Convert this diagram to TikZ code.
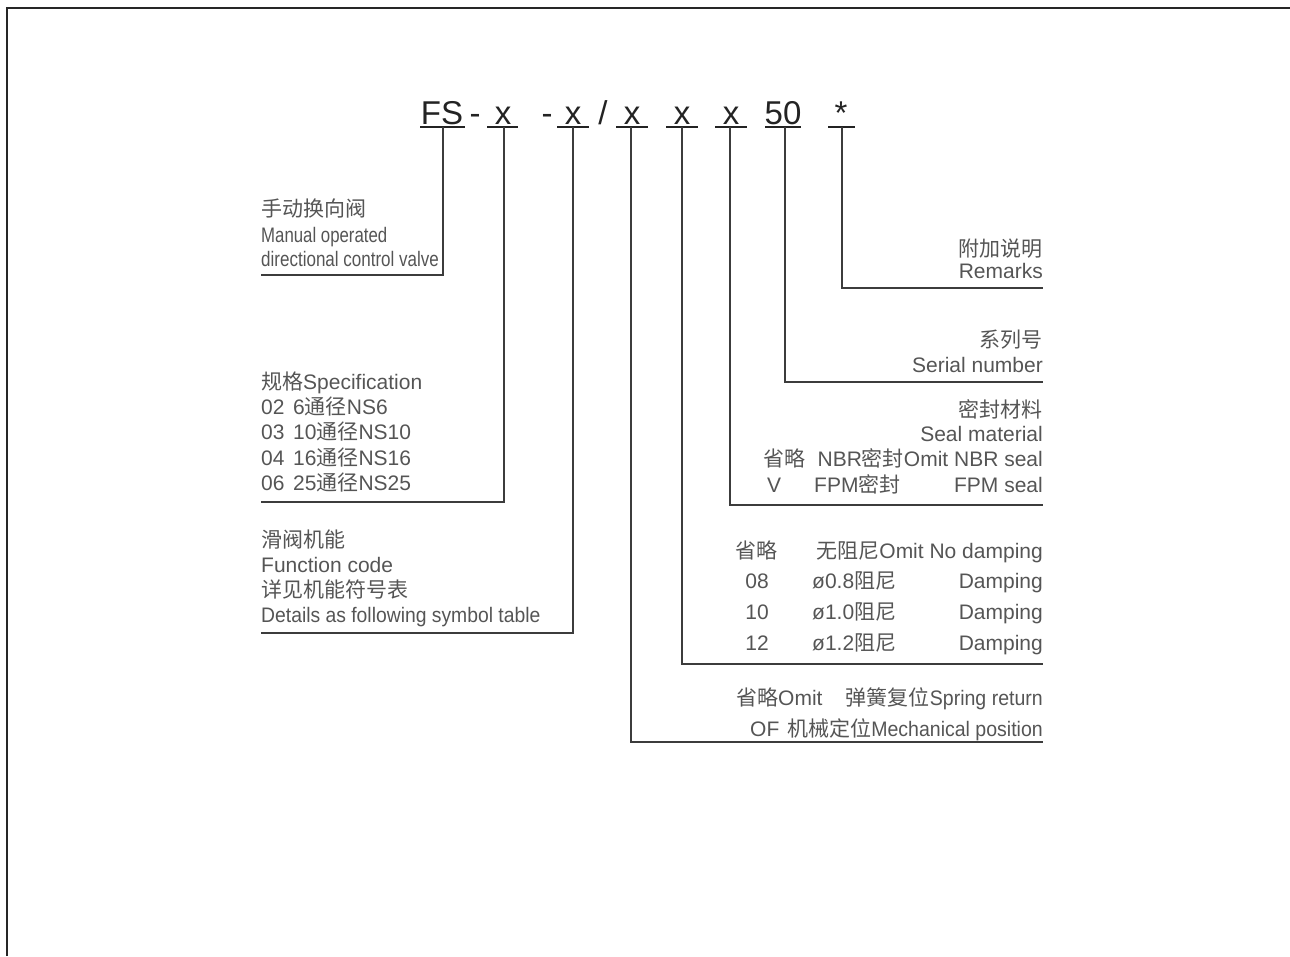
\documentclass[tikz,border=0pt]{standalone}
\usepackage{fontspec}
\setmainfont{Liberation Sans}
\newfontfamily\cjkf{Noto Sans CJK SC}
\newcommand\cj[1]{{\cjkf #1}}
\newcommand\cond[2]{\scalebox{#1}[1]{#2}}
\definecolor{txt}{RGB}{85,85,85}
\definecolor{ln}{RGB}{60,60,60}
\definecolor{hdrc}{RGB}{35,35,35}
\begin{document}
\begin{tikzpicture}[x=1pt,y=-1pt,
  lbl/.style={inner sep=0pt, text=txt, font=\fontsize{21}{24}\selectfont},
  lw/.style={lbl, anchor=base west},
  le/.style={lbl, anchor=base east},
  lc/.style={lbl, anchor=base},
  hdr/.style={inner sep=0pt, anchor=base, text=hdrc, font=\fontsize{33}{36}\selectfont},
  conn/.style={draw=ln, line width=1.3pt},
  uline/.style={draw=hdrc, line width=2.6pt},
  framel/.style={draw=black!85, line width=2.2pt}]
\useasboundingbox (0,0) rectangle (1290,956);
% frame
\coordinate (fa) at (7,956);
\coordinate (fb) at (7,8);
\coordinate (fc) at (1290,8);
\draw[framel] (fa) -- (fb) -- (fc);

% header
\node[hdr] (hFS) at (442,124) {FS};
\node[hdr] (d1) at (475,124) {-};
\node[hdr] (h1) at (503,124) {x};
\node[hdr] (d2) at (547,124) {-};
\node[hdr] (h2) at (573,124) {x};
\node[hdr] (sl) at (603,124) {/};
\node[hdr] (h3) at (632,124) {x};
\node[hdr] (h4) at (682,124) {x};
\node[hdr] (h5) at (731,124) {x};
\node[hdr] (h50) at (783,124) {50};
\node[hdr] (hst) at (841,124) {*};

% underlines
\draw[uline] (420,127) -- (465,127);
\draw[uline] (487,127) -- (518,127);
\draw[uline] (557,127) -- (589,127);
\draw[uline] (616,127) -- (648,127);
\draw[uline] (666,127) -- (698,127);
\draw[uline] (715,127) -- (747,127);
\draw[uline] (765,127) -- (801,127);
\draw[uline] (828,127) -- (855,127);

% stem tops and ends
\coordinate (t1) at (443,127); \coordinate (e1) at (261,275);
\coordinate (t2) at (504,127); \coordinate (e2) at (261,502);
\coordinate (t3) at (573,127); \coordinate (e3) at (261,633);
\coordinate (t4) at (631,127); \coordinate (e4) at (1043,742);
\coordinate (t5) at (682,127); \coordinate (e5) at (1043,664);
\coordinate (t6) at (730,127); \coordinate (e6) at (1043,505);
\coordinate (t7) at (785,127); \coordinate (e7) at (1043,382);
\coordinate (t8) at (842,127); \coordinate (e8) at (1043,288);
\draw[conn] (t1) |- (e1);
\draw[conn] (t2) |- (e2);
\draw[conn] (t3) |- (e3);
\draw[conn] (t4) |- (e4);
\draw[conn] (t5) |- (e5);
\draw[conn] (t6) |- (e6);
\draw[conn] (t7) |- (e7);
\draw[conn] (t8) |- (e8);

% group 1
\node[lw] (a1) at (261,216) {\cj{手动换向阀}};
\node[lw] (a2) at (261,242) {\cond{0.80}{Manual operated}};
\node[lw] (a3) at (261,266) {\cond{0.81}{directional control valve}};

% group 2
\node[lw] (b0) at (261,389) {\cj{规格}Specification};
\node[lw] (b1a) at (261,414) {02};
\node[lw] (b1b) at (293,414) {6\cj{通径}NS6};
\node[lw] (b2a) at (261,439.5) {03};
\node[lw] (b2b) at (293,439.5) {10\cj{通径}NS10};
\node[lw] (b3a) at (261,465) {04};
\node[lw] (b3b) at (293,465) {16\cj{通径}NS16};
\node[lw] (b4a) at (261,490) {06};
\node[lw] (b4b) at (293,490) {25\cj{通径}NS25};

% group 3
\node[lw] (c1) at (261,547) {\cj{滑阀机能}};
\node[lw] (c2) at (261,572) {Function code};
\node[lw] (c3) at (261,597) {\cj{详见机能符号表}};
\node[lw] (c4) at (261,622) {\cond{0.92}{Details as following symbol table}};

% remarks
\node[le] (r1) at (1043,256) {\cj{附加说明}};
\node[le] (r2) at (1043,278) {Remarks};

% serial
\node[le] (s1) at (1043,347) {\cj{系列号}};
\node[le] (s2) at (1043,372) {Serial number};

% seal
\node[le] (m1) at (1043,417) {\cj{密封材料}};
\node[le] (m2) at (1043,441) {Seal material};
\node[lw] (m3a) at (763,466) {\cj{省略}};
\node[le] (m3b) at (1043,466) {NBR\cj{密封}Omit NBR seal};
\node[lw] (m4a) at (767,492) {V};
\node[lw] (m4b) at (814,492) {FPM\cj{密封}};
\node[le] (m4c) at (1043,492) {FPM seal};

% damping
\node[lw] (p1a) at (735,558) {\cj{省略}};
\node[le] (p1b) at (1043,558) {\cj{无阻尼}Omit No damping};
\node[lc] (p2a) at (757,588) {08};
\node[lw] (p2b) at (812,588) {ø0.8\cj{阻尼}};
\node[le] (p2c) at (1043,588) {Damping};
\node[lc] (p3a) at (757,619) {10};
\node[lw] (p3b) at (812,619) {ø1.0\cj{阻尼}};
\node[le] (p3c) at (1043,619) {Damping};
\node[lc] (p4a) at (757,650) {12};
\node[lw] (p4b) at (812,650) {ø1.2\cj{阻尼}};
\node[le] (p4c) at (1043,650) {Damping};

% spring
\node[lw] (q1a) at (736,705) {\cj{省略}Omit};
\node[le] (q1b) at (1043,705) {\cj{弹簧复位}\cond{0.93}{Spring return}};
\node[lw] (q2a) at (750,736) {OF};
\node[le] (q2b) at (1043,736) {\cj{机械定位}\cond{0.93}{Mechanical position}};
\end{tikzpicture}
\end{document}
